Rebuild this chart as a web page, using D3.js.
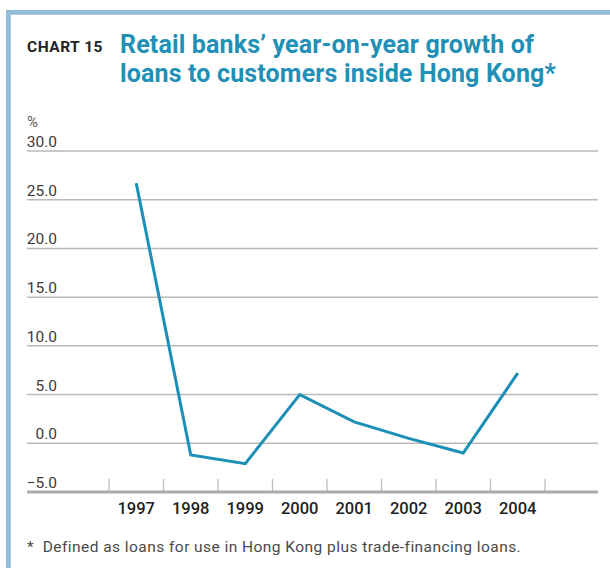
<!DOCTYPE html>
<html>
<head>
<meta charset="utf-8">
<script src="https://cdn.jsdelivr.net/npm/d3@7"></script>
<style>
  body { margin: 0; background: #fff; }
  svg { display: block; font-family: Roboto, "Open Sans", sans-serif; }
</style>
</head>
<body>
<svg id="chart" width="610" height="568"></svg>
<script>
// Retail banks' year-on-year growth of loans to customers inside Hong Kong (%)
const years = ["1997", "1998", "1999", "2000", "2001", "2002", "2003", "2004"];
const growth = [26.7, -1.2, -2.1, 5.0, 2.2, 0.5, -1.0, 7.2];
const yTicks = [-5, 0, 5, 10, 15, 20, 25, 30];
const titleLines = [
  "Retail banks\u2019 year-on-year growth of",
  "loans to customers inside Hong Kong*"
];
const footnote = "*  Defined as loans for use in Hong Kong plus trade-financing loans.";

const svg = d3.select("#chart");

// Frame (top and left rule)
svg.append("path")
  .attr("d", "M8.4,575 L8.4,12.4 L620,12.4")
  .attr("fill", "none")
  .attr("stroke", "#93bcd6")
  .attr("stroke-width", 4.7);

// Heading
svg.append("text")
  .attr("x", 27).attr("y", 52)
  .attr("font-size", 15.5).attr("font-weight", 700)
  .attr("letter-spacing", 0.5)
  .attr("fill", "#222")
  .text("CHART 15");

svg.append("g").selectAll("text")
  .data(titleLines)
  .join("text")
  .attr("x", 120)
  .attr("y", (d, i) => 53 + i * 28.5)
  .attr("font-size", 25).attr("font-weight", 700)
  .attr("letter-spacing", 0.15)
  .attr("fill", "#2190b6")
  .text(d => d);

// Scales
const gridLeft = 27, gridRight = 598;
const x = d3.scaleBand().domain(years).range([109, 545]).padding(0);
const y = d3.scaleLinear().domain([-5, 30]).range([492, 151]);

// Horizontal gridlines
svg.append("g").selectAll("line")
  .data(yTicks.filter(v => v !== -5))
  .join("line")
  .attr("x1", gridLeft).attr("x2", gridRight)
  .attr("y1", d => y(d)).attr("y2", d => y(d))
  .attr("stroke", "#b9b9b9").attr("stroke-width", 1.5);

// Y tick labels
svg.append("g").selectAll("text")
  .data(yTicks)
  .join("text")
  .attr("x", 57)
  .attr("y", d => y(d) - 4)
  .attr("text-anchor", "end")
  .attr("font-size", 15.5)
  .attr("fill", "#3a3a3a")
  .text(d => d3.format(".1f")(d));

svg.append("text")
  .attr("x", 27).attr("y", 127)
  .attr("font-size", 15).attr("fill", "#5a5a5a")
  .text("%");

// Category boundary ticks
const boundaries = years.map(d => x(d)).concat([x(years[years.length - 1]) + x.bandwidth()]);
svg.append("g").selectAll("line")
  .data(boundaries)
  .join("line")
  .attr("x1", d => d).attr("x2", d => d)
  .attr("y1", y(-5) - 13).attr("y2", y(-5))
  .attr("stroke", "#bdbdbd").attr("stroke-width", 1.3);

// Baseline axis at -5
svg.append("line")
  .attr("x1", gridLeft).attr("x2", gridRight)
  .attr("y1", y(-5)).attr("y2", y(-5))
  .attr("stroke", "#acacac").attr("stroke-width", 3);

// Year labels
svg.append("g").selectAll("text")
  .data(years)
  .join("text")
  .attr("x", d => x(d) + x.bandwidth() / 2)
  .attr("y", 514)
  .attr("text-anchor", "middle")
  .attr("font-size", 16.5).attr("font-weight", 500)
  .attr("fill", "#222")
  .text(d => d);

// Growth line
const line = d3.line()
  .x((d, i) => x(years[i]) + x.bandwidth() / 2)
  .y(d => y(d));

svg.append("path")
  .datum(growth)
  .attr("d", line)
  .attr("fill", "none")
  .attr("stroke", "#1b8fb5")
  .attr("stroke-width", 3)
  .attr("stroke-linejoin", "miter");

// Footnote
svg.append("text")
  .attr("x", 27).attr("y", 552)
  .attr("font-size", 15.5).attr("fill", "#4a4a4a")
  .attr("letter-spacing", 0.45)
  .attr("xml:space", "preserve")
  .style("white-space", "pre")
  .text(footnote);
</script>
</body>
</html>
